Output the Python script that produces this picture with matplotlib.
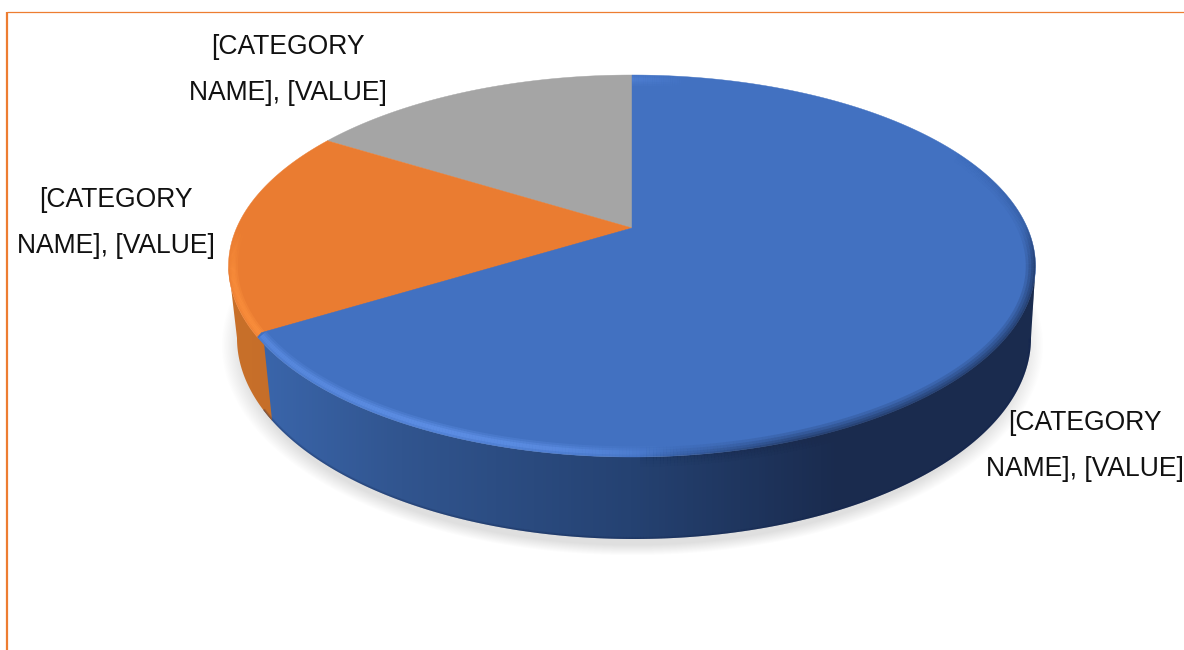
import numpy as np
import matplotlib
matplotlib.use("Agg")
import matplotlib.pyplot as plt
from matplotlib.collections import LineCollection
from matplotlib.colors import LinearSegmentedColormap, to_rgb
from matplotlib.patches import Polygon

# pie data, clockwise from 12 o'clock
VALUES = [66.3, 17.5, 16.2]
TOP_COLORS = ["#4271c1", "#ea7c31", "#a5a5a5"]
SIDE_STOPS = [
    [(240, "#3a65aa"), (265, "#3a65aa"), (400, "#31558f"), (630, "#254272"), (840, "#1a2b4e"), (1040, "#1a2b4e")],
    [(225, "#c97029"), (280, "#c56e2a")],
    None,
]
LABELS = ["[CATEGORY\nNAME], [VALUE]"] * 3
LABEL_POS = [(1085, 446), (116, 223), (288, 70)]

W, H = 1184, 650
TOP = (632, 266, 403.5, 191)      # cx, cy, rx, ry of the upper face
BAND = (632, 266, 399, 186.5)     # highlight runs just inside the rim
BOTTOM = (634, 338, 397, 201)     # lower rim
K = 0.199                         # perspective shift of the pie centre


def project(theta, ell, r=1.0):
    """theta in degrees clockwise from the top -> pixel position on an ellipse"""
    t = np.radians(theta)
    u, v = r * np.sin(t), r * np.cos(t)
    d = 1 + K * v
    up = u * np.sqrt(1 - K ** 2) / d
    vp = (v + K) / d
    return ell[0] + ell[2] * up, ell[1] - ell[3] * vp


def arc_xy(a, b, ell, n=300):
    x, y = project(np.linspace(a, b, n), ell)
    return np.column_stack([x, y])


def soft_rim(ax, xy, color, weights, clip, widths=(8, 5.5, 3), alpha=0.4):
    segs = np.stack([xy[:-1], xy[1:]], axis=1)
    w = 0.5 * (weights[:-1] + weights[1:])
    for lw in widths:
        rgba = np.zeros((len(segs), 4))
        rgba[:, :3] = to_rgb(color)
        rgba[:, 3] = np.clip(w * alpha, 0, 1)
        lc = LineCollection(segs, colors=rgba, linewidths=lw, capstyle="butt", zorder=5)
        ax.add_collection(lc)
        lc.set_clip_path(clip)


fig = plt.figure(figsize=(W / 100, H / 100), dpi=100)
ax = fig.add_axes([0, 0, 1, 1])

# soft shadow under the pie
yy, xx = np.mgrid[0:H, 0:W]
dist = np.hypot((xx - 632) / 411, (yy - 345) / 210)
shadow = np.zeros((H, W, 4))
shadow[..., :3] = 0.78
shadow[..., 3] = np.clip((1.0 - dist) / 0.05, 0, 1) * 0.55
ax.imshow(shadow, extent=(0, W, H, 0), aspect="auto", zorder=1)

angles = np.concatenate([[0], np.cumsum(VALUES) / np.sum(VALUES) * 360])
theta_r = np.degrees(np.arccos(-K))
theta_l = 360 - theta_r
CORNER = 0.8   # the blue corner is rounded off by this many degrees

# outline of the whole solid, used to clip the rim shading
outline = np.vstack([arc_xy(theta_l - 360, theta_r, TOP, 600),
                     arc_xy(theta_r, theta_l, BOTTOM, 400)])
clip_patch = Polygon(outline, closed=True, fc="none", ec="none", zorder=0)
ax.add_patch(clip_patch)

# side walls with a horizontal gradient, orange goes first and runs under the blue
for i in [1, 0]:
    stops = SIDE_STOPS[i]
    a = max(angles[i] - (3 if i == 1 else 0), theta_r)
    b_top = min(angles[i + 1] - (CORNER if i == 0 else 0), theta_l)
    b_low = min(angles[i + 1], theta_l)
    wall = np.vstack([arc_xy(a, b_top, TOP), arc_xy(b_low, a, BOTTOM)])
    patch = Polygon(wall, closed=True, fc="none", ec="none", zorder=2)
    ax.add_patch(patch)
    x0, x1 = stops[0][0], stops[-1][0]
    cmap = LinearSegmentedColormap.from_list(
        f"side{i}", [((x - x0) / (x1 - x0), c) for x, c in stops])
    img = ax.imshow(np.linspace(0, 1, 256)[None, :], cmap=cmap, extent=(x0, x1, H, 0),
                    aspect="auto", zorder=2 + (1 - i) * -0.1)
    img.set_clip_path(patch)

# top faces, blue last so its rounded corner sits over the orange
px, py = project(0, TOP, r=0)
ax.add_patch(Polygon(np.vstack([[px, py], arc_xy(angles[2], angles[3], TOP)]),
                     closed=True, fc=TOP_COLORS[2], ec=TOP_COLORS[2], lw=0.3, zorder=3))
ax.add_patch(Polygon(np.vstack([[px, py], arc_xy(angles[1] - 3, angles[2], TOP)]),
                     closed=True, fc=TOP_COLORS[1], ec=TOP_COLORS[1], lw=0.3, zorder=3.1))

orange_rim = arc_xy(angles[1] - 1, angles[2], BAND, 200)
soft_rim(ax, orange_rim, "#ff9440",
         np.interp(orange_rim[:, 1], [225, 275, 335], [0.0, 0.8, 1.0]),
         clip_patch, widths=(7, 4.5, 2.5), alpha=0.36)

# tip of the blue face: arc stops short, then back onto the slice edge
tip = np.array(project(angles[1], TOP, r=0.985))
blue_face = np.vstack([[px, py], arc_xy(angles[0], angles[1] - CORNER, TOP, 600), tip])
blue_patch = Polygon(blue_face, closed=True, fc=TOP_COLORS[0], ec=TOP_COLORS[0], lw=0.3, zorder=5.2)
ax.add_patch(blue_patch)

# rim shading: light band on the left, dark blur on the right
blue_rim = arc_xy(angles[0], angles[1] - CORNER, BAND, 600)
for lw, al in [(9, 0.22), (6, 0.3), (3, 0.4)]:
    segs = np.stack([blue_rim[:-1], blue_rim[1:]], axis=1)
    wt = np.interp(segs[:, 0, 0], [258, 300, 440, 560, 690], [0.7, 0.75, 1.0, 0.8, 0.0])
    rgba = np.zeros((len(segs), 4))
    rgba[:, :3] = to_rgb("#6a9cf5")
    rgba[:, 3] = wt * al
    lc = LineCollection(segs, colors=rgba, linewidths=lw, capstyle="butt", zorder=5.3)
    ax.add_collection(lc)
    lc.set_clip_path(blue_patch)

dark_rim = arc_xy(angles[0], angles[1] - CORNER, TOP, 600)
for lw, al in [(14, 0.16), (10, 0.2), (6, 0.25), (2.5, 0.3)]:
    segs = np.stack([dark_rim[:-1], dark_rim[1:]], axis=1)
    wt = (np.interp(segs[:, 0, 0], [640, 800, 1036], [0.0, 1.0, 1.0])
          * np.interp(segs[:, 0, 1], [150, 225, 265], [0.0, 0.25, 1.0]))
    rgba = np.zeros((len(segs), 4))
    rgba[:, :3] = to_rgb("#1a2b4e")
    rgba[:, 3] = wt * al
    lc = LineCollection(segs, colors=rgba, linewidths=lw, capstyle="butt", zorder=5.4)
    ax.add_collection(lc)
    lc.set_clip_path(clip_patch)

# dark line along the lower edge of the wall
low_rim = arc_xy(theta_r, angles[1], BOTTOM, 400)
soft_rim(ax, low_rim, "#15264f", np.ones(400), clip_patch, widths=(3, 1.5), alpha=0.18)

for text, (lx, ly) in zip(LABELS, LABEL_POS):
    ax.text(lx, ly, text, ha="center", va="center", fontsize=19.1, color="#111111",
            family="Liberation Sans", linespacing=2.02, zorder=6)

# chart frame, only the top and left sides show
ax.plot([7, 7], [11.5, H], color="#ed7d31", lw=1.6, zorder=7, solid_capstyle="butt")
ax.plot([7, W], [11.5, 11.5], color="#ed7d31", lw=0.9, zorder=7, solid_capstyle="butt")

ax.set_xlim(0, W)
ax.set_ylim(H, 0)
ax.axis("off")

fig.savefig("out.png", dpi=100, facecolor="white")
plt.close(fig)
